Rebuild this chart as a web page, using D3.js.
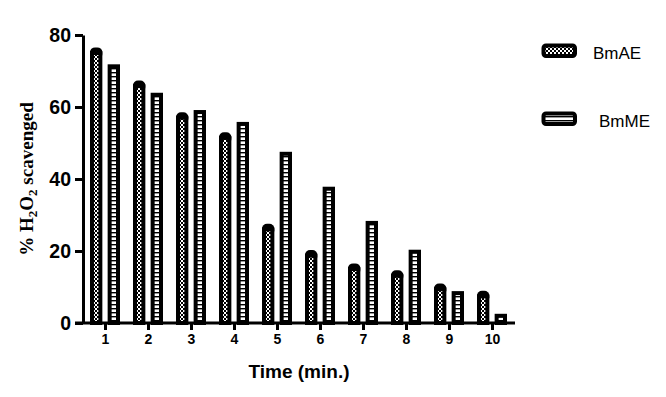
<!DOCTYPE html>
<html>
<head>
<meta charset="utf-8">
<script src="https://cdn.jsdelivr.net/npm/d3@7"></script>
<style>
  html, body { margin: 0; padding: 0; background: #fff; }
  svg { display: block; }
</style>
</head>
<body>
<div id="chart"></div>
<script>
// % H2O2 scavenged over time, two extracts. BmAE bars carry a small SD cap.
const times = [1, 2, 3, 4, 5, 6, 7, 8, 9, 10];
const series = ["BmAE", "BmME"];
const bmAE = [75, 65.8, 57, 51.4, 26, 18.7, 15, 13.1, 9.4, 7.4];
const bmAEErr = [1, 1, 1, 1, 1, 1, 1, 1, 1, 1];
const bmME = [71.3, 63.4, 58.6, 55.3, 47, 37.3, 27.8, 19.8, 8.3, 2];
const yTicks = [0, 20, 40, 60, 80];

const width = 666, height = 397;
const svg = d3.select("#chart").append("svg")
  .attr("width", width).attr("height", height).attr("viewBox", `0 0 ${width} ${height}`);

// fills: fine checkerboard for BmAE, horizontal rungs for BmME
const defs = svg.append("defs");
const chk = defs.append("pattern").attr("id", "chk").attr("patternUnits", "userSpaceOnUse")
  .attr("width", 4).attr("height", 4);
chk.append("rect").attr("width", 4).attr("height", 4).attr("fill", "#fff");
chk.append("rect").attr("width", 2).attr("height", 2).attr("fill", "#000");
chk.append("rect").attr("x", 2).attr("y", 2).attr("width", 2).attr("height", 2).attr("fill", "#000");
const rung = defs.append("pattern").attr("id", "rung").attr("patternUnits", "userSpaceOnUse")
  .attr("width", 4).attr("height", 4);
rung.append("rect").attr("width", 4).attr("height", 4).attr("fill", "#fff");
rung.append("rect").attr("width", 4).attr("height", 1.4).attr("fill", "#000");
const fills = { BmAE: "url(#chk)", BmME: "url(#rung)" };

const axisX = 83, axisY = 323, axisRight = 515;
const y = d3.scaleLinear().domain([0, 80]).range([axisY, 35]);
const x = d3.scalePoint().domain(times).range([105, 492]);
const xs = d3.scaleBand().domain(series).range([-15, 15]).paddingInner(0.3);

const sw = 4;
const data = times.map((t, i) => ({ t, BmAE: bmAE[i], err: bmAEErr[i], BmME: bmME[i] }));

const groups = svg.append("g").selectAll("g").data(data).join("g")
  .attr("transform", (d) => `translate(${x(d.t)},0)`);

// error caps for BmAE (drawn under the bar, rounded top)
groups.append("rect")
  .attr("x", xs("BmAE")).attr("width", xs.bandwidth())
  .attr("y", (d) => y(d.BmAE + d.err) - sw / 2)
  .attr("height", (d) => y(d.BmAE) - y(d.BmAE + d.err) + sw + 4)
  .attr("rx", 5).attr("fill", "#000");

series.forEach((s) => {
  groups.append("rect")
    .attr("x", xs(s) + sw / 2).attr("width", xs.bandwidth() - sw)
    .attr("y", (d) => y(d[s]))
    .attr("height", (d) => axisY - y(d[s]))
    .attr("fill", fills[s]).attr("stroke", "#000").attr("stroke-width", sw);
});

// y axis
const gy = svg.append("g").attr("transform", `translate(${axisX},0)`)
  .call(d3.axisLeft(y).tickValues(yTicks).tickSize(8).tickPadding(4).tickSizeOuter(0));
gy.select(".domain").attr("stroke-width", 3);
gy.selectAll(".tick line").attr("stroke-width", 3);
gy.selectAll("text").attr("font-family", "Arial, 'Liberation Sans', sans-serif")
  .attr("font-weight", "bold").attr("font-size", 19.5).attr("fill", "#000");

// x axis
const gx = svg.append("g").attr("transform", `translate(0,${axisY})`)
  .call(d3.axisBottom(x).tickSize(7).tickPadding(4).tickSizeOuter(0));
gx.select(".domain").remove();
gx.append("line").attr("x1", axisX - 8).attr("x2", axisRight).attr("stroke", "#000").attr("stroke-width", 3);
gx.selectAll(".tick line").attr("stroke-width", 3);
gx.selectAll("text").attr("font-family", "Arial, 'Liberation Sans', sans-serif")
  .attr("font-weight", "bold").attr("font-size", 14).attr("fill", "#000");

svg.append("text").attr("x", 299).attr("y", 378).attr("text-anchor", "middle")
  .attr("font-family", "Arial, 'Liberation Sans', sans-serif").attr("font-weight", "bold")
  .attr("font-size", 19).text("Time (min.)");

const yl = svg.append("text").attr("transform", "translate(33,179) rotate(-90)")
  .attr("text-anchor", "middle")
  .attr("font-family", "'Times New Roman', 'Liberation Serif', serif").attr("font-weight", "bold")
  .attr("font-size", 19);
yl.append("tspan").text("% H");
yl.append("tspan").attr("font-size", 13).attr("dy", 4).text("2");
yl.append("tspan").attr("dy", -4).text("O");
yl.append("tspan").attr("font-size", 13).attr("dy", 4).text("2");
yl.append("tspan").attr("dy", -4).text(" scavenged");

// legend
const legendY = [51, 119];
const legendX = [593, 599];
const leg = svg.append("g").selectAll("g").data(series).join("g");
leg.append("rect").attr("x", 543.5).attr("y", (d, i) => legendY[i] - 5.5)
  .attr("width", 31.5).attr("height", 10.5).attr("rx", 2.5)
  .attr("fill", (d) => fills[d]).attr("stroke", "#000").attr("stroke-width", sw);
leg.append("text").attr("x", (d, i) => legendX[i]).attr("y", (d, i) => legendY[i] + 8)
  .attr("font-family", "Arial, 'Liberation Sans', sans-serif").attr("font-size", 17)
  .text((d) => d);
</script>
</body>
</html>
